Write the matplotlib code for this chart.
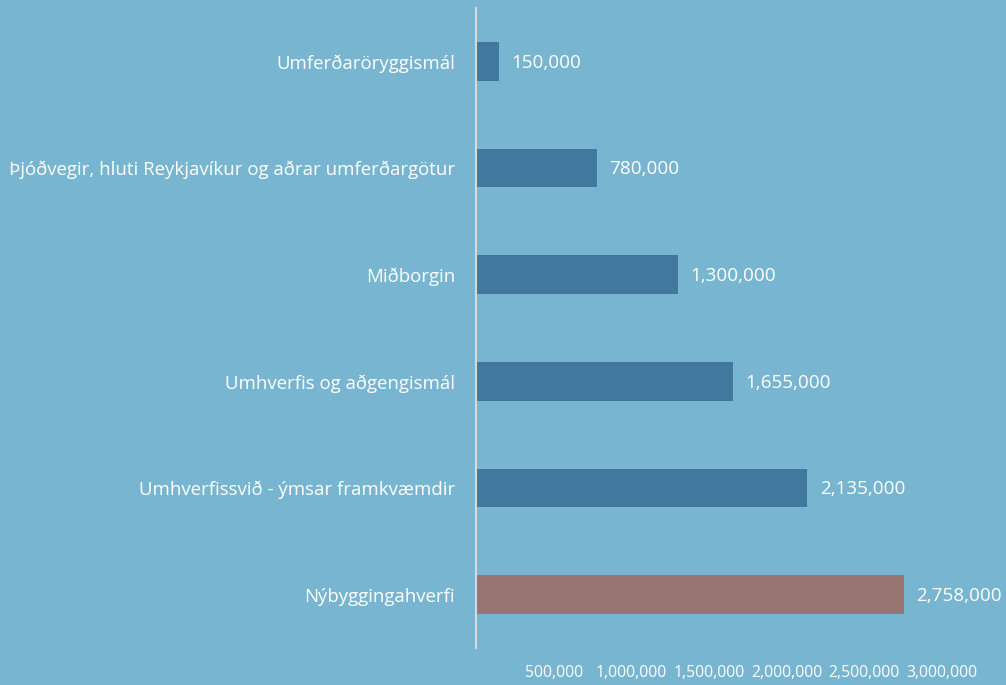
import matplotlib
matplotlib.use("Agg")
import matplotlib.pyplot as plt
from matplotlib.ticker import FuncFormatter

categories = ["Umferðaröryggismál",
              "Þjóðvegir, hluti Reykjavíkur og aðrar umferðargötur",
              "Miðborgin",
              "Umhverfis og aðgengismál",
              "Umhverfissvið - ýmsar framkvæmdir",
              "Nýbyggingahverfi"]
values = [150000, 780000, 1300000, 1655000, 2135000, 2758000]
xticks = [500000, 1000000, 1500000, 2000000, 2500000, 3000000]

bg = "#78B5D1"
bar_blue = "#41789E"
bar_brown = "#997571"
colors = [bar_blue] * 5 + [bar_brown]

plt.rcParams['font.family'] = ['Open Sans', 'DejaVu Sans']

fig = plt.figure(figsize=(10.06, 6.85), dpi=100, facecolor=bg)
ax = fig.add_axes([476/1006, 37/685, (941.6-476)/1006, 640/685])
ax.set_facecolor(bg)

ypos = list(range(len(categories)))
ax.barh(ypos, values, height=0.36, color=colors)
ax.set_ylim(len(categories) - 0.5, -0.5)
ax.set_xlim(0, 3000000)

ax.set_yticks(ypos)
ax.set_yticklabels(categories, color="white", fontsize=13.4)
ax.set_xticks(xticks)
ax.xaxis.set_major_formatter(FuncFormatter(lambda v, p: f"{int(v):,}"))
ax.tick_params(axis='x', colors="white", labelsize=11.3, length=0, pad=12)
ax.tick_params(axis='y', length=0, pad=15)

for s in ["top", "right", "bottom"]:
    ax.spines[s].set_visible(False)
ax.spines["left"].set_color("#D9D9D9")
ax.spines["left"].set_linewidth(1.5)

for y, v in zip(ypos, values):
    ax.annotate(f"{v:,}", xy=(v, y), xytext=(9, -1), textcoords="offset points",
                va="center", ha="left", color="white", fontsize=13.6)

fig.savefig("out.png", dpi=100, facecolor=bg)
